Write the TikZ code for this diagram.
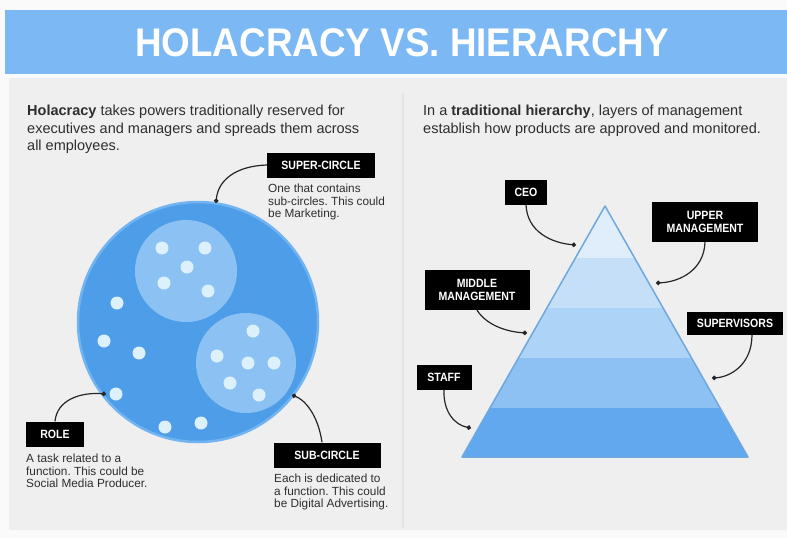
\documentclass[tikz,border=0pt]{standalone}
\usepackage{fontspec}
\setmainfont{Liberation Sans}
\newfontfamily\narrowfont[FakeStretch=0.88]{Liberation Sans}
\newfontfamily\titlefont[FakeStretch=0.92]{Liberation Sans}
\usetikzlibrary{arrows.meta}

\definecolor{BarBlue}{HTML}{7CB9F4}
\definecolor{PanelGrey}{HTML}{EFEFEF}
\definecolor{DividerGrey}{HTML}{E3E3E3}
\definecolor{TextGrey}{HTML}{2E2E2E}
\definecolor{CircleBlue}{HTML}{4E9DE8}
\definecolor{CircleRim}{HTML}{72B4F1}
\definecolor{SubBlue}{HTML}{8CC2F3}
\definecolor{DotBlue}{HTML}{DDF1FD}
\definecolor{BandA}{HTML}{E0EDFA}
\definecolor{BandB}{HTML}{C6DFF8}
\definecolor{BandC}{HTML}{ADD3F6}
\definecolor{BandD}{HTML}{8DC1F3}
\definecolor{BandE}{HTML}{62A8EE}
\definecolor{PyramidRim}{HTML}{6FA8DE}

\tikzset{
	tag/.style={fill=black, text=white, inner xsep=4pt, inner ysep=0pt, minimum height=25pt, align=center,
		font=\narrowfont\bfseries\fontsize{12}{13}\selectfont},
	note/.style={anchor=north west, inner sep=0pt, align=left, text=TextGrey,
		font=\fontsize{11.8}{12.5}\selectfont},
	intro/.style={anchor=north west, inner sep=0pt, align=left, text=TextGrey,
		font=\fontsize{14.5}{17.5}\selectfont},
	callout/.style={-{Circle[length=4.5pt]}, line width=1.2pt, black!85}
}

\begin{document}
\frenchspacing
\begin{tikzpicture}[x=1pt, y=-1pt]
		% The page, the grey panel and the title bar
		\fill [white!98!black] (0, 0) rectangle (787, 538);
		\useasboundingbox (0, 0) rectangle (787, 538);
		\fill [PanelGrey] (9, 78) rectangle (787, 530);
		\fill [BarBlue] (5, 10) rectangle (787, 74);
		\node (title) [text=white, font=\titlefont\bfseries\fontsize{40}{44}\selectfont] at (402, 43) {HOLACRACY VS. HIERARCHY};
		% The divider between the two halves
		\draw [DividerGrey, line width=1.5pt] (403, 93) -- (403, 528);
		% The introductions of both halves
		\node (holaintro) [intro] at (27, 105) {\textbf{Holacracy} takes powers traditionally reserved for\\executives and managers and spreads them across\\all employees.};
		\node (hierintro) [intro] at (423, 105) {In a \textbf{traditional hierarchy}, layers of management\\establish how products are approved and monitored.};
		% The super-circle with its two sub-circles
		\fill [CircleBlue] (198, 322) circle [radius=120];
		\draw [CircleRim, line width=2.5pt] (198, 322) circle [radius=120];
		\fill [SubBlue] (186, 271) circle [radius=51];
		\fill [SubBlue] (246, 363) circle [radius=50];
		% The roles
		\foreach \x/\y in {162/248, 205/248, 187/267, 164/283, 208/291,
			253/331, 217/356, 248/363, 274/363, 230/383, 259/395,
			117/303, 104/341, 139/353, 116/394, 165/427, 201/423}
			\fill [DotBlue] (\x, \y) circle [radius=6.5];
		% The labels of the holacracy
		\node (super) [tag, minimum width=108pt] at (321, 165) {SUPER-CIRCLE};
		\node (supernote) [note] at (268, 184) {One that contains\\sub-circles. This could\\be Marketing.};
		\node (role) [tag, minimum width=58pt] at (55, 434) {ROLE};
		\node (rolenote) [note] at (26, 454) {A task related to a\\function. This could be\\Social Media Producer.};
		\node (subcircle) [tag, minimum width=107pt] at (327, 455) {SUB-CIRCLE};
		\node (subnote) [note] at (274, 474) {Each is dedicated to\\a function. This could\\be Digital Advertising.};
		\coordinate (supertip) at (216, 203);
		\coordinate (roletip) at (106, 394);
		\coordinate (subtip) at (292, 395);
		\draw [callout] (super.west) .. controls (236, 166) and (218, 180) .. (supertip);
		\draw [callout] (role.north) .. controls (57, 400) and (80, 392) .. (roletip);
		\draw [callout] ([xshift=-5pt]subcircle.north) .. controls (318, 415) and (305, 400) .. (subtip);
		% The pyramid of the hierarchy
		\begin{scope}
			\clip (605, 206) -- (748, 457) -- (462, 457) -- cycle;
			\foreach \top/\bot/\band in {206/258/BandA, 258/308/BandB, 308/358/BandC, 358/408/BandD, 408/457/BandE}
				\fill [\band] (460, \top) rectangle (750, \bot);
		\end{scope}
		\draw [PyramidRim, line width=1.5pt, line join=round] (605, 206) -- (748, 457) -- (462, 457) -- cycle;
		% The layers of the hierarchy
		\node (ceo) [tag, minimum width=42pt] at (526, 192) {CEO};
		\node (upper) [tag, minimum width=106pt, minimum height=40pt] at (705, 222) {UPPER\\MANAGEMENT};
		\node (middle) [tag, minimum width=105pt, minimum height=40pt] at (477, 290) {MIDDLE\\MANAGEMENT};
		\node (supervisors) [tag, minimum width=96pt, minimum height=23pt] at (735, 323) {SUPERVISORS};
		\node (staff) [tag, minimum width=55pt] at (444, 377) {STAFF};
		\coordinate (ceotip) at (576, 245);
		\coordinate (uppertip) at (656, 283);
		\coordinate (middletip) at (527, 333);
		\coordinate (supervisorstip) at (712, 378);
		\coordinate (stafftip) at (471, 428);
		\draw [callout] (ceo.south) .. controls (527, 232) and (552, 243) .. (ceotip);
		\draw [callout] (upper.south) .. controls (704, 270) and (680, 282) .. (uppertip);
		\draw [callout] (middle.south) .. controls (488, 327) and (510, 332) .. (middletip);
		\draw [callout] ([xshift=17pt]supervisors.south) .. controls (752, 365) and (730, 377) .. (supervisorstip);
		\draw [callout] (staff.south) .. controls (443, 412) and (455, 425) .. (stafftip);
	\end{tikzpicture}
\end{document}
